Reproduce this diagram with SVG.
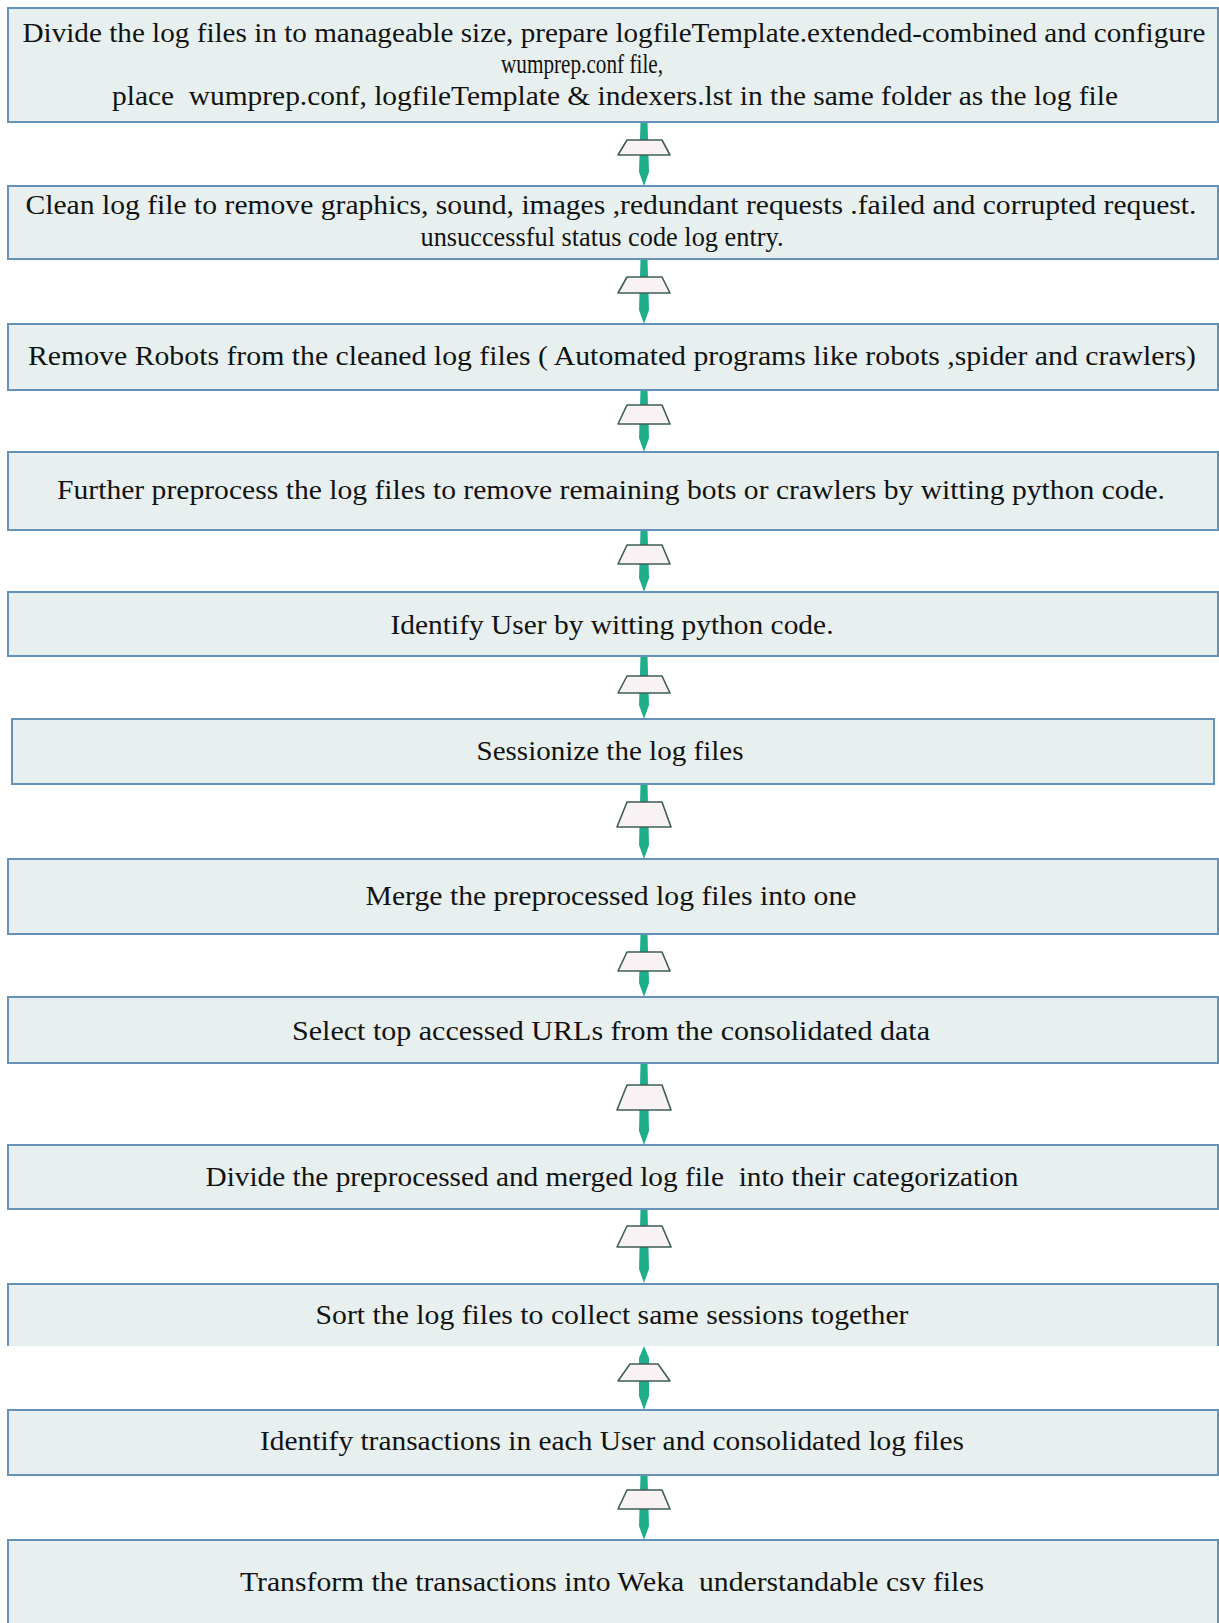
<svg xmlns="http://www.w3.org/2000/svg" width="1219" height="1623" viewBox="0 0 1219 1623">
  <style>
    .box { fill: #e7f0ee; stroke: #6592b6; stroke-width: 2; }
    .open { fill: none; stroke: #6592b6; stroke-width: 2; }
    .lbl { font-family: "Liberation Serif", "Times New Roman", serif; font-size: 27px; fill: #121212; text-anchor: middle; white-space: pre; }
    .shaft { fill: #1fae8c; }
    .cap { fill: #f8f2f4; stroke: #3f5d57; stroke-width: 1.6; stroke-linejoin: round; }
  </style>
  <rect width="1219" height="1623" fill="#ffffff"/>

  <!-- connectors: shaft + trapezoid collar between consecutive steps -->
  <g id="connectors">
    <g><path class="shaft" d="M640.5 122 L647.5 122 L649 172 L644 186 L639 172 Z"/><polygon class="cap" points="627,140 662,140 670,155 618,155"/></g>
    <g><path class="shaft" d="M640.5 259 L647.5 259 L649 310 L644 324 L639 310 Z"/><polygon class="cap" points="627,277 662,277 670,293 618,293"/></g>
    <g><path class="shaft" d="M640.5 390 L647.5 390 L649 438 L644 452 L639 438 Z"/><polygon class="cap" points="627,405 662,405 670,424 618,424"/></g>
    <g><path class="shaft" d="M640.5 530 L647.5 530 L649 578 L644 592 L639 578 Z"/><polygon class="cap" points="627,545 662,545 670,564 618,564"/></g>
    <g><path class="shaft" d="M640.5 656 L647.5 656 L649 705 L644 719 L639 705 Z"/><polygon class="cap" points="627,676 662,676 670,693 618,693"/></g>
    <g><path class="shaft" d="M640.5 784 L647.5 784 L649 845 L644 859 L639 845 Z"/><polygon class="cap" points="627,802 662,802 671,827 617,827"/></g>
    <g><path class="shaft" d="M640.5 934 L647.5 934 L649 983 L644 997 L639 983 Z"/><polygon class="cap" points="627,952 662,952 670,971 618,971"/></g>
    <g><path class="shaft" d="M640.5 1063 L647.5 1063 L649 1131 L644 1145 L639 1131 Z"/><polygon class="cap" points="627,1085 662,1085 671,1110 617,1110"/></g>
    <g><path class="shaft" d="M640.5 1209 L647.5 1209 L649 1269 L644 1283 L639 1269 Z"/><polygon class="cap" points="627,1226 662,1226 671,1247 617,1247"/></g>
    <g><path class="shaft" d="M644 1346 L649 1358 L649 1396 L644 1410 L639 1396 L639 1358 Z"/><polygon class="cap" points="630,1364 658,1364 670,1381 618,1381"/></g>
    <g><path class="shaft" d="M640.5 1475 L647.5 1475 L649 1526 L644 1540 L639 1526 Z"/><polygon class="cap" points="627,1490 662,1490 670,1509 618,1509"/></g>
  </g>

  <g id="step1">
    <rect class="box" x="8" y="8" width="1210" height="114"/>
    <text class="lbl" x="614" y="42" textLength="1183" lengthAdjust="spacingAndGlyphs">Divide the log files in to manageable size, prepare logfileTemplate.extended-combined and configure</text>
    <text class="lbl" x="582" y="73" textLength="162" lengthAdjust="spacingAndGlyphs">wumprep.conf file,</text>
    <text class="lbl" x="615" y="105" textLength="1006" lengthAdjust="spacingAndGlyphs">place  wumprep.conf, logfileTemplate &amp; indexers.lst in the same folder as the log file</text>
  </g>
  <g id="step2">
    <rect class="box" x="8" y="186" width="1210" height="73"/>
    <text class="lbl" x="611" y="214" textLength="1171" lengthAdjust="spacingAndGlyphs">Clean log file to remove graphics, sound, images ,redundant requests .failed and corrupted request.</text>
    <text class="lbl" x="602" y="246" textLength="363" lengthAdjust="spacingAndGlyphs">unsuccessful status code log entry.</text>
  </g>
  <g id="step3">
    <rect class="box" x="8" y="324" width="1210" height="66"/>
    <text class="lbl" x="612" y="365" textLength="1168" lengthAdjust="spacingAndGlyphs">Remove Robots from the cleaned log files ( Automated programs like robots ,spider and crawlers)</text>
  </g>
  <g id="step4">
    <rect class="box" x="8" y="452" width="1210" height="78"/>
    <text class="lbl" x="611" y="499" textLength="1108" lengthAdjust="spacingAndGlyphs">Further preprocess the log files to remove remaining bots or crawlers by witting python code.</text>
  </g>
  <g id="step5">
    <rect class="box" x="8" y="592" width="1210" height="64"/>
    <text class="lbl" x="612" y="634" textLength="443" lengthAdjust="spacingAndGlyphs">Identify User by witting python code.</text>
  </g>
  <g id="step6">
    <rect class="box" x="12" y="719" width="1202" height="65"/>
    <text class="lbl" x="610" y="760" textLength="267" lengthAdjust="spacingAndGlyphs">Sessionize the log files</text>
  </g>
  <g id="step7">
    <rect class="box" x="8" y="859" width="1210" height="75"/>
    <text class="lbl" x="611" y="905" textLength="491" lengthAdjust="spacingAndGlyphs">Merge the preprocessed log files into one</text>
  </g>
  <g id="step8">
    <rect class="box" x="8" y="997" width="1210" height="66"/>
    <text class="lbl" x="611" y="1040" textLength="638" lengthAdjust="spacingAndGlyphs">Select top accessed URLs from the consolidated data</text>
  </g>
  <g id="step9">
    <rect class="box" x="8" y="1145" width="1210" height="64"/>
    <text class="lbl" x="612" y="1186" textLength="813" lengthAdjust="spacingAndGlyphs">Divide the preprocessed and merged log file  into their categorization</text>
  </g>
  <g id="step10">
    <rect x="8" y="1284" width="1210" height="62" fill="#e7f0ee"/>
    <path class="open" d="M8 1346 L8 1284 L1218 1284 L1218 1346"/>
    <text class="lbl" x="612" y="1324" textLength="593" lengthAdjust="spacingAndGlyphs">Sort the log files to collect same sessions together</text>
  </g>
  <g id="step11">
    <rect class="box" x="8" y="1410" width="1210" height="65"/>
    <text class="lbl" x="612" y="1450" textLength="704" lengthAdjust="spacingAndGlyphs">Identify transactions in each User and consolidated log files</text>
  </g>
  <g id="step12">
    <rect class="box" x="8" y="1540" width="1210" height="90"/>
    <text class="lbl" x="612" y="1591" textLength="744" lengthAdjust="spacingAndGlyphs">Transform the transactions into Weka  understandable csv files</text>
  </g>
</svg>
